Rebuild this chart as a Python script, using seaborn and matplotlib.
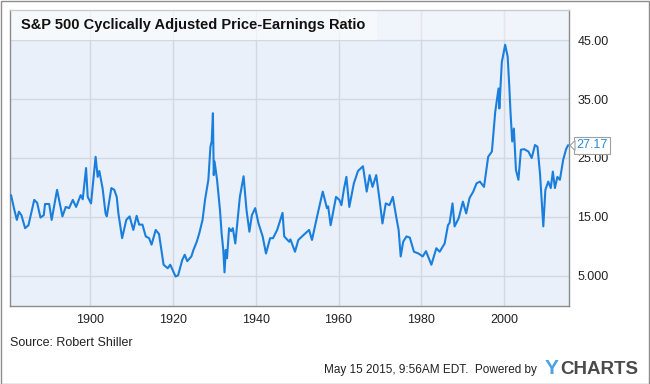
import matplotlib
matplotlib.use("Agg")
import matplotlib.pyplot as plt
from matplotlib.patches import Rectangle, Polygon
import seaborn as sns
import pandas as pd

# ---- data ----
years = [
    1881.0, 1881.8, 1882.4, 1882.9, 1883.5, 1884.4, 1885.2, 1886.6, 1887.3, 1888.1,
    1888.9, 1889.2, 1890.2, 1890.8, 1892.1, 1893.4, 1894.2, 1895.0, 1895.9, 1896.7,
    1897.8, 1898.3, 1899.1, 1899.5, 1900.3, 1901.4, 1901.9, 1902.3, 1903.1, 1903.8,
    1904.1, 1905.2, 1905.9, 1906.5, 1906.9, 1907.8, 1908.8, 1909.6, 1910.5, 1911.3,
    1911.9, 1912.7, 1913.5, 1914.3, 1914.9, 1915.9, 1916.7, 1917.8, 1918.8, 1919.4,
    1920.7, 1921.3, 1922.3, 1922.9, 1923.5, 1924.5, 1925.0, 1925.8, 1926.4, 1927.2,
    1927.8, 1928.6, 1929.1, 1929.4, 1929.7, 1929.9, 1930.1, 1930.7, 1931.1, 1931.4,
    1931.8, 1932.2, 1932.5, 1932.8, 1933.1, 1933.6, 1934.1, 1934.5, 1935.1, 1936.2,
    1937.1, 1937.8, 1938.5, 1939.1, 1939.9, 1940.7, 1941.7, 1942.5, 1943.5, 1944.2,
    1945.2, 1946.5, 1946.9, 1948.1, 1948.4, 1949.5, 1950.3, 1951.5, 1952.9, 1953.6,
    1954.9, 1956.2, 1957.2, 1957.5, 1958.1, 1959.4, 1960.2, 1960.7, 1961.3, 1961.9,
    1962.6, 1963.7, 1964.7, 1965.9, 1966.8, 1967.5, 1968.2, 1969.1, 1969.9, 1970.6,
    1971.4, 1972.3, 1973.1, 1973.9, 1974.5, 1975.0, 1975.6, 1976.4, 1977.2, 1978.2,
    1979.3, 1980.3, 1981.1, 1982.4, 1983.6, 1984.4, 1985.6, 1986.4, 1986.8, 1987.5,
    1988.0, 1989.0, 1990.0, 1990.8, 1991.6, 1992.5, 1993.3, 1994.1, 1995.1, 1996.1,
    1997.0, 1997.8, 1998.6, 1998.8, 1999.4, 1999.6, 2000.2, 2000.8, 2001.2, 2001.5,
    2001.9, 2002.3, 2002.8, 2003.4, 2004.0, 2004.8, 2005.8, 2006.6, 2007.4, 2008.0,
    2008.6, 2009.4, 2009.9, 2010.6, 2011.2, 2011.7, 2012.2, 2012.8, 2013.4, 2014.2,
    2014.9, 2015.37,
]
cape = [
    18.7, 16.2, 14.5, 15.9, 15.3, 13.1, 13.6, 17.9, 17.4, 14.9,
    15.3, 17.2, 17.2, 14.5, 19.6, 15.1, 16.7, 16.5, 17.9, 16.7,
    18.7, 18.0, 23.3, 18.4, 17.3, 25.2, 21.8, 22.8, 19.8, 15.6,
    15.1, 19.9, 19.6, 18.4, 15.6, 11.4, 14.5, 15.1, 12.8, 15.2,
    13.7, 13.7, 11.7, 11.4, 10.3, 12.8, 12.1, 6.9, 6.3, 6.9,
    4.9, 5.1, 7.7, 8.6, 7.5, 8.3, 9.4, 10.8, 12.2, 14.5,
    17.9, 21.3, 26.9, 27.8, 32.6, 22.1, 24.4, 21.3, 18.4, 16.2,
    12.2, 9.4, 5.6, 9.4, 8.0, 13.1, 12.6, 13.1, 10.5, 18.4,
    21.9, 16.2, 12.5, 15.3, 16.5, 13.9, 11.7, 8.8, 11.4, 11.4,
    12.8, 15.7, 11.7, 10.8, 11.2, 9.1, 11.1, 11.9, 12.8, 11.1,
    15.3, 19.3, 16.5, 16.8, 13.6, 18.4, 17.9, 17.0, 19.7, 21.8,
    16.7, 20.7, 22.8, 23.6, 19.3, 22.1, 20.1, 22.1, 17.9, 13.9,
    17.3, 17.0, 18.4, 15.1, 12.8, 8.3, 10.8, 11.7, 11.5, 9.1,
    8.8, 8.3, 9.2, 6.9, 9.7, 9.1, 10.5, 13.6, 14.0, 17.3,
    13.4, 14.8, 17.6, 15.6, 18.2, 19.3, 20.7, 21.0, 20.1, 25.2,
    26.1, 32.8, 36.8, 33.4, 41.3, 42.0, 44.2, 42.2, 37.1, 32.6,
    27.8, 30.0, 23.0, 21.3, 26.4, 26.5, 26.1, 25.0, 27.2, 26.9,
    22.4, 13.4, 19.6, 21.0, 19.9, 22.7, 19.9, 21.8, 21.3, 24.7,
    26.5, 27.17,
]
x_ticks = [1900, 1920, 1940, 1960, 1980, 2000]
y_ticks = [5, 15, 25, 35, 45]
y_tick_labels = ["5.000", "15.00", "25.00", "35.00", "45.00"]
title = "S&P 500 Cyclically Adjusted Price-Earnings Ratio"
last_label = "27.17"

df = pd.DataFrame({"year": years, "cape": cape})

sns.set_style("white")
plt.rcParams["font.family"] = ["Liberation Sans", "DejaVu Sans"]

W, H = 650, 384
fig = plt.figure(figsize=(W / 100, H / 100), dpi=100)
fig.patch.set_facecolor("white")

# axes box in pixels: x 10..569, y 10..306
ax = fig.add_axes([10 / W, 1 - 306 / H, 559 / W, 296 / H])
ax.set_facecolor("#e9f0fa")

line_color = "#1a7fdc"
sns.lineplot(data=df, x="year", y="cape", ax=ax, color=line_color,
             linewidth=1.5, zorder=3)

ax.set_xlim(1880.75, 2015.6)
ax.set_ylim(-0.1, 50.1)
ax.set_xticks(x_ticks)
ax.set_xticklabels([str(t) for t in x_ticks])
ax.set_yticks(y_ticks)
ax.set_yticklabels(y_tick_labels)
ax.yaxis.tick_right()
ax.tick_params(axis="both", length=0, labelsize=9, colors="#222222")
ax.tick_params(axis="y", pad=6)
ax.tick_params(axis="x", pad=6)
ax.set_xlabel("")
ax.set_ylabel("")
ax.grid(True, color="#d3d8e0", linewidth=1.0, zorder=0)
ax.set_axisbelow(True)
for side in ["left", "bottom", "right"]:
    ax.spines[side].set_color("#8c8c8c")
    ax.spines[side].set_linewidth(1.0)
ax.spines["top"].set_color("#c8ccd2")
ax.spines["top"].set_linewidth(1.0)

# title band (lighter region at top)
ax.add_patch(Rectangle((0, 1 - 30 / 296), 1, 30 / 296, transform=ax.transAxes,
                       facecolor="white", alpha=0.35, edgecolor="none", zorder=1))
ax.add_patch(Rectangle((0, 1 - 30 / 296), 367 / 559, 30 / 296, transform=ax.transAxes,
                       facecolor="white", alpha=0.45, edgecolor="none", zorder=1))
fig.text(21 / W, 1 - 25 / H, title, fontsize=10.5, fontweight="bold",
         color="#111111", va="center", ha="left")

# last value label with pointer
ly = 1 - (276.3 - (27.17 - 5) * 5.9) / H
fig.text(576 / W, ly, last_label, fontsize=9, color="#2a8ad6", va="center",
         ha="left",
         bbox=dict(boxstyle="square,pad=0.18", facecolor="white",
                   edgecolor="#a0a0a0", linewidth=0.8))
tri = Polygon([(570 / W, ly), (575 / W, ly + 5 / H), (575 / W, ly - 5 / H)],
              closed=True, transform=fig.transFigure, facecolor="white",
              edgecolor="#a0a0a0", linewidth=0.8, zorder=5)
fig.patches.append(tri)

# footer texts
fig.text(10 / W, 1 - 343 / H, "Source: Robert Shiller", fontsize=9,
         color="#222222", va="center", ha="left")
fig.text(537 / W, 1 - 370 / H, "May 15 2015, 9:56AM EDT.  Powered by", fontsize=8.5,
         color="#222222", va="center", ha="right")
fig.text(545 / W, 1 - 369 / H, "Y", fontsize=15, fontweight="bold",
         color="#4aa3e6", va="center", ha="left")
fig.text(560 / W, 1 - 369 / H, "CHARTS", fontsize=13.5, fontweight="bold",
         color="#4a4a4a", va="center", ha="left")

# outer border
fig.patches.append(Rectangle((0.5 / W, 0.5 / H), 1 - 1.5 / W, 1 - 1.5 / H,
                             transform=fig.transFigure, facecolor="none",
                             edgecolor="#8c8c8c", linewidth=1.0))

fig.savefig("out.png", dpi=100)
